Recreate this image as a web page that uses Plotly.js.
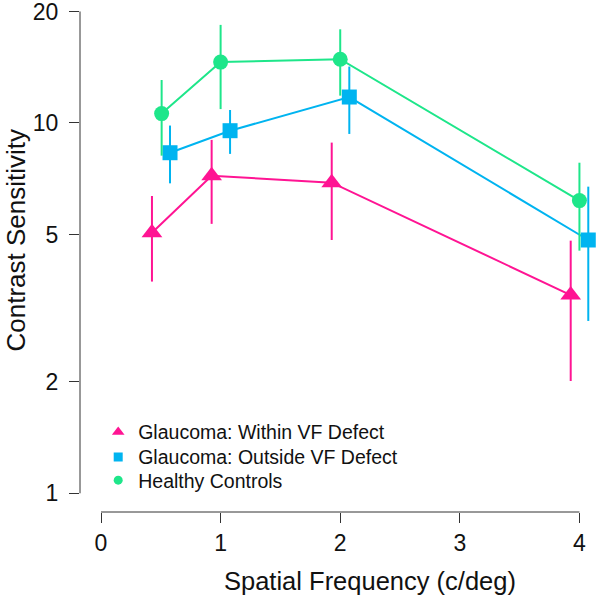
<!DOCTYPE html>
<html>
<head>
<meta charset="utf-8">
<script src="https://cdn.plot.ly/plotly-3.0.1.min.js"></script>
<style>html,body{margin:0;padding:0;background:#fff;}#chart{width:600px;height:599px;}</style>
</head>
<body>
<div id="chart"></div>
<script>
// Data
var seriesNames = ["Glaucoma: Within VF Defect", "Glaucoma: Outside VF Defect", "Healthy Controls"];
var withinX = [0.426, 0.925, 1.929, 3.927];
var withinY = [5.05, 7.2, 6.9, 3.43];
var withinHi = [6.35, 9.0, 8.85, 4.81];
var withinLo = [3.73, 5.34, 4.83, 2.01];

var outsideX = [0.577, 1.079, 2.076, 4.074];
var outsideY = [8.31, 9.53, 11.75, 4.83];
var outsideHi = [9.84, 10.84, 14.2, 6.73];
var outsideLo = [6.87, 8.25, 9.34, 2.92];

var healthyX = [0.507, 1.0, 2.0, 4.0];
var healthyY = [10.6, 14.6, 14.86, 6.17];
var healthyHi = [13.06, 18.4, 17.9, 7.81];
var healthyLo = [8.16, 10.9, 11.85, 4.52];

var xTicks = [0, 1, 2, 3, 4];
var yTicks = [1, 2, 5, 10, 20];

var colors = ["#FF1493", "#00B4F0", "#1EE68A"];
var symbols = ["triangle-up", "square", "circle"];
var sizes = [18, 15, 15];

function mk(i, xs, ys, hi, lo) {
  return {type: "scatter", mode: "lines+markers", x: xs, y: ys, showlegend: false,
    line: {color: colors[i], width: 2}, marker: {color: colors[i], symbol: symbols[i], size: sizes[i]},
    error_y: {type: "data", symmetric: false, array: hi.map(function (v, k) { return v - ys[k]; }),
      arrayminus: lo.map(function (v, k) { return ys[k] - v; }), color: colors[i], thickness: 2, width: 0}};
}
function lg(i) {
  return {type: "scatter", mode: "markers", x: [null], y: [null], name: seriesNames[i],
    legend: ["legend", "legend2", "legend3"][i], marker: {color: colors[i], symbol: symbols[i], size: [11, 9, 9][i]}};
}
var data = [mk(0, withinX, withinY, withinHi, withinLo), mk(1, outsideX, outsideY, outsideHi, outsideLo),
  mk(2, healthyX, healthyY, healthyHi, healthyLo), lg(0), lg(1), lg(2)];

var axisColor = "#333";
function legendAt(rowPx) {
  return {x: 0.035, y: (512 - (rowPx - 19)) / 512, xanchor: "left", yanchor: "top", bgcolor: "rgba(0,0,0,0)",
    font: {size: 19.5, color: "#111"}};
}
var layout = {
  width: 600, height: 599, margin: {l: 80, r: 0, t: 0, b: 87, pad: 0},
  font: {family: "Liberation Sans, Arial, Helvetica, sans-serif", color: "#111"},
  xaxis: {range: [-0.1756, 4.172], tickmode: "array", tickvals: xTicks, ticktext: xTicks.map(String),
    showgrid: false, zeroline: false, showline: false, ticks: "outside", ticklen: 10, tickwidth: 1,
    tickcolor: axisColor, tickfont: {size: 23, color: "#111"}, ticklabeloverflow: "allow", fixedrange: true},
  yaxis: {type: "log", range: [-0.0505, 1.332], tickmode: "array", tickvals: yTicks, ticktext: yTicks.map(String),
    showgrid: false, zeroline: false, showline: false, ticks: "outside", ticklen: 10, tickwidth: 1,
    tickcolor: axisColor, tickfont: {size: 23, color: "#111"}, ticklabelstandoff: 6, ticklabeloverflow: "allow",
    fixedrange: true},
  shapes: [
    {type: "line", xref: "x", yref: "paper", x0: xTicks[0], x1: xTicks[xTicks.length - 1], y0: 0, y1: 0,
      line: {color: axisColor, width: 1}},
    {type: "line", xref: "paper", yref: "y", x0: 0, x1: 0, y0: yTicks[0], y1: yTicks[yTicks.length - 1],
      line: {color: axisColor, width: 1}}
  ],
  annotations: [
    {text: "Spatial Frequency (c/deg)", xref: "paper", yref: "paper", x: (370 - 80) / 520, y: -(581 - 512) / 512,
      xanchor: "center", yanchor: "middle", showarrow: false, font: {size: 25.5, color: "#111"}},
    {text: "Contrast Sensitivity", xref: "paper", yref: "paper", x: (15 - 80) / 520, y: (512 - 240.5) / 512,
      xanchor: "center", yanchor: "middle", textangle: -90, showarrow: false, font: {size: 26, color: "#111"}}
  ],
  legend: legendAt(431.7), legend2: legendAt(456.7), legend3: legendAt(480)
};
Plotly.newPlot("chart", data, layout, {staticPlot: true});
</script>
</body>
</html>
